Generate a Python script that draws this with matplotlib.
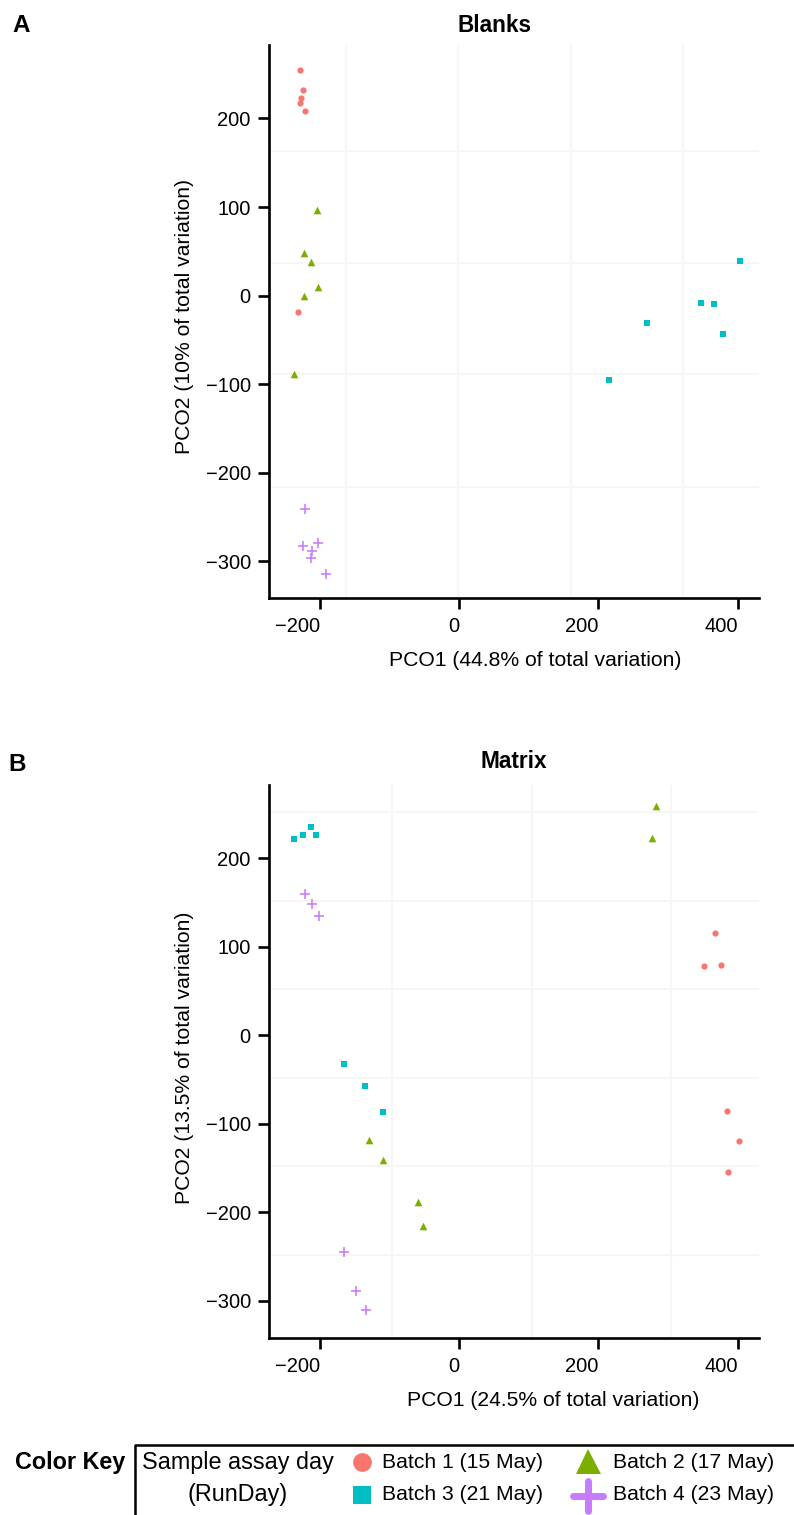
import matplotlib
matplotlib.use("Agg")
import matplotlib.pyplot as plt
from matplotlib.lines import Line2D
from matplotlib.markers import MarkerStyle

plt.rcParams['font.family'] = ['Liberation Sans', 'DejaVu Sans']

# ---------------- data ----------------
batch_labels = ["Batch 1 (15 May)", "Batch 2 (17 May)",
                "Batch 3 (21 May)", "Batch 4 (23 May)"]
batch_colors = ["#F8766D", "#7CAE00", "#00BFC4", "#C77CFF"]

# Blanks ordination scores (PCO1, PCO2)
blanks_b1_pco1 = [-229, -224, -227, -228, -222, -232]
blanks_b1_pco2 = [255, 232, 223, 217, 208, -19]
blanks_b2_pco1 = [-204, -223, -212, -203, -223, -237]
blanks_b2_pco2 = [97, 48, 38, 10, 0, -89]
blanks_b3_pco1 = [403, 347, 366, 379, 270, 215]
blanks_b3_pco2 = [39, -8, -9, -43, -31, -95]
blanks_b4_pco1 = [-222, -224, -202, -211, -212, -191]
blanks_b4_pco2 = [-241, -283, -279, -289, -297, -314]

# Matrix ordination scores (PCO1, PCO2)
matrix_b1_pco1 = [367, 352, 376, 384, 402, 386]
matrix_b1_pco2 = [116, 78, 80, -86, -120, -155]
matrix_b2_pco1 = [283, 277, -129, -110, -59, -52]
matrix_b2_pco2 = [259, 223, -118, -141, -189, -216]
matrix_b3_pco1 = [-237, -224, -213, -205, -166, -135, -109]
matrix_b3_pco2 = [222, 227, 235, 227, -33, -57, -87]
matrix_b4_pco1 = [-222, -211, -201, -165, -148, -134]
matrix_b4_pco2 = [160, 148, 135, -245, -289, -311]

x_ticks = [-200, 0, 200, 400]
y_ticks = [-300, -200, -100, 0, 100, 200]

blanks_xlabel = "PCO1 (44.8% of total variation)"
blanks_ylabel = "PCO2 (10% of total variation)"
matrix_xlabel = "PCO1 (24.5% of total variation)"
matrix_ylabel = "PCO2 (13.5% of total variation)"

# ---------------- layout helpers ----------------
W, H = 794, 1515
fig = plt.figure(figsize=(W / 100, H / 100), dpi=100)
fig.patch.set_facecolor("white")


def fx(x):
    return x / W


def fy(y):
    return 1 - y / H


def axes_px(left, top, right, bottom):
    return fig.add_axes([fx(left), fy(bottom), (right - left) / W, (bottom - top) / H])


def scatter_batches(ax, xs, ys):
    styles = [
        dict(marker="o", s=20, linewidths=0),
        dict(marker="^", s=30, linewidths=0),
        dict(marker="s", s=22, linewidths=0),
        dict(marker="+", s=52, linewidths=1.15),
    ]
    for x, y, col, st in zip(xs, ys, batch_colors, styles):
        ax.scatter(x, y, color=col, zorder=3, clip_on=False, **st)


def style_panel(ax, grid_x, grid_y):
    ax.set_xlim(-273, 431)
    ax.set_ylim(-342, 283)
    for g in grid_x:
        ax.axvline(g, color="#f6f6f6", lw=1.6, zorder=0)
    for g in grid_y:
        ax.axhline(g, color="#f6f6f6", lw=1.6, zorder=0)
    for side in ("top", "right"):
        ax.spines[side].set_visible(False)
    for side in ("left", "bottom"):
        ax.spines[side].set_linewidth(1.9)
        ax.spines[side].set_color("black")
    ax.set_xticks(x_ticks)
    ax.set_yticks(y_ticks)
    ax.tick_params(axis="both", direction="out", length=7.6, width=1.9,
                   labelsize=14.5, colors="black")
    ax.tick_params(axis="x", pad=6.0)
    ax.tick_params(axis="y", pad=5.5)
    for tick in ax.xaxis.get_major_ticks():
        tick.label1.set_horizontalalignment("right")
    ax.set_facecolor("white")


# ---------------- panel A: Blanks ----------------
axA = axes_px(269, 45, 759.3, 598.3)
style_panel(axA, grid_x=[-162, -1, 160, 321], grid_y=[163, 37, -89, -216])
scatter_batches(axA,
                [blanks_b1_pco1, blanks_b2_pco1, blanks_b3_pco1, blanks_b4_pco1],
                [blanks_b1_pco2, blanks_b2_pco2, blanks_b3_pco2, blanks_b4_pco2])

# ---------------- panel B: Matrix ----------------
axB = axes_px(269, 785, 759.3, 1337.7)
style_panel(axB, grid_x=[-96, 104, 304], grid_y=[252, 152, 52, -48, -148, -248])
scatter_batches(axB,
                [matrix_b1_pco1, matrix_b2_pco1, matrix_b3_pco1, matrix_b4_pco1],
                [matrix_b1_pco2, matrix_b2_pco2, matrix_b3_pco2, matrix_b4_pco2])

# ---------------- titles, panel letters, axis labels ----------------
fig.text(fx(21.5), fy(25), "A", fontsize=17.5, fontweight="bold", ha="center", va="center")
fig.text(fx(17.5), fy(764), "B", fontsize=17.5, fontweight="bold", ha="center", va="center")
fig.text(fx(494), fy(25), "Blanks", fontsize=16.3, fontweight="bold", ha="center", va="center")
fig.text(fx(514), fy(762), "Matrix", fontsize=16.3, fontweight="bold", ha="center", va="center")

fig.text(fx(535), fy(661), blanks_xlabel, fontsize=15.2, ha="center", va="center")
fig.text(fx(185), fy(317), blanks_ylabel, fontsize=15.2, ha="center", va="center", rotation=90)
fig.text(fx(553), fy(1401), matrix_xlabel, fontsize=15.2, ha="center", va="center")
fig.text(fx(185), fy(1058), matrix_ylabel, fontsize=15.2, ha="center", va="center", rotation=90)

# ---------------- colour key ----------------
fig.text(fx(70), fy(1462), "Color Key", fontsize=16.8, fontweight="bold", ha="center", va="center")
fig.add_artist(Line2D([fx(135), fx(135), fx(W + 5)], [fy(H + 5), fy(1445), fy(1445)],
                      transform=fig.transFigure, color="black", lw=1.8))
fig.text(fx(238), fy(1463), "Sample assay day", fontsize=16.8, ha="center", va="center")
fig.text(fx(238), fy(1495), "(RunDay)", fontsize=16.8, ha="center", va="center")

key_markers = [
    dict(marker="o", markersize=13.5, mew=0),
    dict(marker="^", markersize=18, mew=0),
    dict(marker="s", markersize=13, mew=0),
    dict(marker=MarkerStyle("+", capstyle="round"), markersize=22, mew=5),
]
key_pos = [(362, 1462), (588, 1461), (362, 1495), (588, 1496)]
key_text_x = [382, 613, 382, 613]
key_text_y = [1462, 1462, 1495, 1495]
for i in range(len(batch_labels)):
    mx, my = key_pos[i]
    fig.add_artist(Line2D([fx(mx)], [fy(my)], transform=fig.transFigure,
                          color=batch_colors[i], linestyle="none", **key_markers[i]))
    fig.text(fx(key_text_x[i]), fy(key_text_y[i]), batch_labels[i], fontsize=15.2,
             ha="left", va="center")

fig.savefig("out.png", dpi=100, facecolor="white")
